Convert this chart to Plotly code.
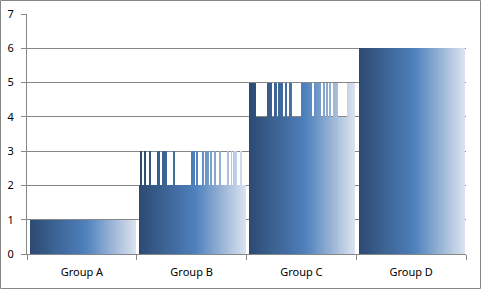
import plotly.graph_objects as go

# ---- data ----
categories = ["Group A", "Group B", "Group C", "Group D"]
y_ticks = [0, 1, 2, 3, 4, 5, 6, 7]

# each group is drawn as thin vertical slices; runs are (value, number of slices)
group_a_runs = [(1, 107)]
group_b_runs = [(2, 1), (3, 2), (2, 2), (3, 2), (2, 3), (3, 2), (2, 6), (3, 3), (2, 2), (3, 5),
                (2, 6), (3, 2), (2, 16), (3, 4), (2, 1), (3, 2), (2, 4), (3, 2), (2, 1), (3, 4),
                (2, 1), (3, 2), (2, 2), (3, 2), (2, 3), (3, 2), (2, 6), (3, 2), (2, 2), (3, 1),
                (2, 1), (3, 4), (2, 3), (3, 2), (2, 4)]
group_c_runs = [(5, 7), (4, 11), (5, 5), (4, 2), (5, 3), (4, 1), (5, 5), (4, 2), (5, 2), (4, 2),
                (5, 3), (4, 9), (5, 11), (4, 2), (5, 7), (4, 2), (5, 2), (4, 1), (5, 2), (4, 1),
                (5, 2), (4, 2), (5, 6), (4, 9), (5, 8)]
group_d_runs = [(6, 107)]

all_runs = [group_a_runs, group_b_runs, group_c_runs, group_d_runs]

# ---- styling helpers ----
stops = [(0.0, (44, 74, 114)), (0.53, (79, 129, 189)), (1.0, (220, 227, 238))]


def grad(t):
    for (t0, c0), (t1, c1) in zip(stops[:-1], stops[1:]):
        if t <= t1:
            f = (t - t0) / (t1 - t0)
            return "rgb(%d,%d,%d)" % tuple(round(a + (b - a) * f) for a, b in zip(c0, c1))
    return "rgb(%d,%d,%d)" % stops[-1][1]


bar_frac = 106 / 109.5
offset = 0.008

xs, ys, ws, cs = [], [], [], []
for gi, runs in enumerate(all_runs):
    vals = [v for v, n in runs for _ in range(n)]
    n = len(vals)
    w = bar_frac / n
    left = gi - bar_frac / 2 + offset
    for j, v in enumerate(vals):
        xs.append(left + (j + 0.5) * w)
        ys.append(v)
        ws.append(w)
        cs.append(grad((j + 0.5) / n))

fig = go.Figure(go.Bar(x=xs, y=ys, width=ws, marker=dict(color=cs, line=dict(width=0)),
                       hoverinfo="skip"))

axis_col = "#868686"
font = dict(family="Noto Sans, Open Sans, sans-serif", size=11, color="#000000")

L, R, T, B = 27, 15, 14, 35
W, H = 481, 289
pw, ph = W - L - R, H - T - B

fig.update_layout(
    width=W, height=H,
    margin=dict(l=L, r=R, t=T, b=B, pad=0, autoexpand=False),
    paper_bgcolor="white", plot_bgcolor="white",
    bargap=0, showlegend=False, font=font,
    xaxis=dict(range=[-0.5, 3.5], tickmode="array", tickvals=list(range(len(categories))),
               ticktext=categories, ticks="", showgrid=False, zeroline=False, automargin=False,
               showline=True, linecolor=axis_col, linewidth=1, fixedrange=True,
               minor=dict(tickmode="array", tickvals=[-0.5, 0.5, 1.5, 2.5, 3.5], ticks="outside",
                          ticklen=5, tickcolor=axis_col, tickwidth=1, showgrid=False),
               ticklabelstandoff=8),
    yaxis=dict(range=[0, 7], tickmode="array", tickvals=y_ticks, ticks="outside", ticklen=5,
               tickcolor=axis_col, showgrid=True, gridcolor=axis_col, gridwidth=1,
               zeroline=False, showline=True, linecolor=axis_col, linewidth=1, fixedrange=True,
               automargin=False, ticklabelstandoff=5),
    shapes=[dict(type="rect", xref="paper", yref="paper",
                 x0=(0.5 - L) / pw, x1=(W - 0.5 - L) / pw,
                 y0=(0.5 - B) / ph, y1=(H - 0.5 - B) / ph,
                 line=dict(color=axis_col, width=1), fillcolor="rgba(0,0,0,0)", layer="above")],
)

fig.write_html("out.html", config={"displayModeBar": False, "staticPlot": True},
               post_script="document.body.style.margin='0';")
